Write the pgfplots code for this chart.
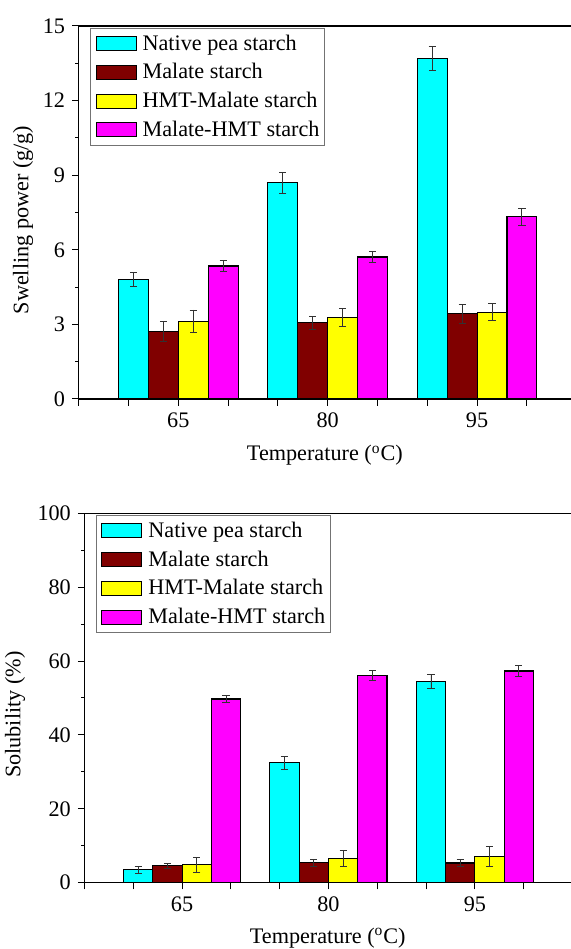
\documentclass[border=0pt]{standalone}
\usepackage{fontspec}
\setmainfont{Liberation Serif}
\usepackage{pgfplots}
\pgfplotsset{compat=1.18}
\definecolor{cNat}{RGB}{0,255,255}
\definecolor{cMal}{RGB}{128,0,0}
\definecolor{cHM}{RGB}{255,255,0}
\definecolor{cMH}{RGB}{255,0,255}
\definecolor{errc}{RGB}{50,50,50}
\newcommand\fsz{\fontsize{11.1}{13}\selectfont}
\pgfplotsset{
  mybar/.style={ybar, bar width=3, bar shift=0pt, draw=black, line width=0.55pt, fill=#1,
    legend image code/.code={\draw[##1, line width=0.5pt] (0pt,-3.5pt) rectangle (20pt,3.5pt);},
    error bars/y dir=both, error bars/y explicit,
    error bars/error bar style={line width=0.45pt, color=errc},
    error bars/error mark options={rotate=90, mark size=1.8pt, line width=0.45pt, color=errc}},
  base/.style={
    scale only axis, xmin=55,
    axis x line*=bottom, axis y line*=left,
    axis line style={line width=0.6pt, -},
    tick align=outside, major tick length=3.3pt, minor tick length=1.7pt,
    tick style={line width=0.5pt, black},
    xtick={55,60,...,100}, xticklabels={,,65,,,80,,,95,},
    minor y tick num=1,
    /pgf/number format/assume math mode=true,
    tick label style={font=\fsz},
    label style={font=\fsz},
    legend cell align=left,
    legend style={at={(axis description cs:0,1)}, anchor=north west, xshift=5.7pt, yshift=-0.85pt,
      draw=black!55, line width=0.5pt, inner xsep=2.5pt, inner ysep=2.65pt,
      row sep=4.15pt, column sep=3pt, font=\fsz,
      nodes={inner xsep=0pt, inner ysep=0pt, text height=8.3pt, text depth=1.9pt}},
    after end axis/.code={\draw[line width=0.6pt] (rel axis cs:0,1) -- (rel axis cs:1,1);},
  }
}
\begin{document}
\begin{tikzpicture}
\begin{axis}[base, at={(39.35pt,275pt)}, anchor=south west, width=246.15pt, height=186.5pt,
  xmax=104.43, ymin=0, ymax=15, ytick={0,3,...,15},
  ylabel={Swelling power (g/g)}, xlabel={Temperature (\textsuperscript{o}C)},
  ylabel style={at={(axis description cs:-0.1022,0.48)}, anchor=base},
  xlabel style={at={(axis description cs:0.5,0)}, anchor=base, yshift=-31pt}]
% Native pea starch: bars at 65-4.5, 80-4.5, 95-4.5
\addplot[mybar=cNat] coordinates {(60.5,4.81) +- (0,0.28) (75.5,8.70) +- (0,0.42) (90.5,13.69) +- (0,0.48)};
\addlegendentry{Native pea starch}
\addplot[mybar=cMal] coordinates {(63.5,2.72) +- (0,0.39) (78.5,3.06) +- (0,0.25) (93.5,3.43) +- (0,0.39)};
\addlegendentry{Malate starch}
\addplot[mybar=cHM] coordinates {(66.5,3.12) +- (0,0.46) (81.5,3.28) +- (0,0.37) (96.5,3.49) +- (0,0.35)};
\addlegendentry{HMT-Malate starch}
\addplot[mybar=cMH] coordinates {(69.5,5.35) +- (0,0.21) (84.5,5.71) +- (0,0.23) (99.5,7.33) +- (0,0.35)};
\addlegendentry{Malate-HMT starch}
\end{axis}
\begin{axis}[base, at={(42.25pt,33.15pt)}, anchor=south west, width=243.25pt, height=184.7pt,
  xmax=104.85, ymin=0, ymax=100, ytick={0,20,...,100},
  ylabel={Solubility (\%)}, xlabel={Temperature (\textsuperscript{o}C)},
  ylabel style={at={(axis description cs:-0.1316,0.455)}, anchor=base},
  xlabel style={at={(axis description cs:0.5,0)}, anchor=base, yshift=-30.2pt}]
\addplot[mybar=cNat] coordinates {(60.5,3.52) +- (0,0.95) (75.5,32.49) +- (0,1.76) (90.5,54.51) +- (0,1.94)};
\addlegendentry{Native pea starch}
\addplot[mybar=cMal] coordinates {(63.5,4.60) +- (0,0.63) (78.5,5.42) +- (0,0.95) (93.5,5.32) +- (0,1.0)};
\addlegendentry{Malate starch}
\addplot[mybar=cHM] coordinates {(66.5,4.87) +- (0,2.0) (81.5,6.59) +- (0,2.2) (96.5,7.04) +- (0,2.75)};
\addlegendentry{HMT-Malate starch}
\addplot[mybar=cMH] coordinates {(69.5,49.73) +- (0,0.9) (84.5,56.14) +- (0,1.27) (99.5,57.31) +- (0,1.5)};
\addlegendentry{Malate-HMT starch}
\end{axis}
\pgfresetboundingbox
\path (0pt,0pt) rectangle (285.5pt,474.5pt);
\end{tikzpicture}
\end{document}
